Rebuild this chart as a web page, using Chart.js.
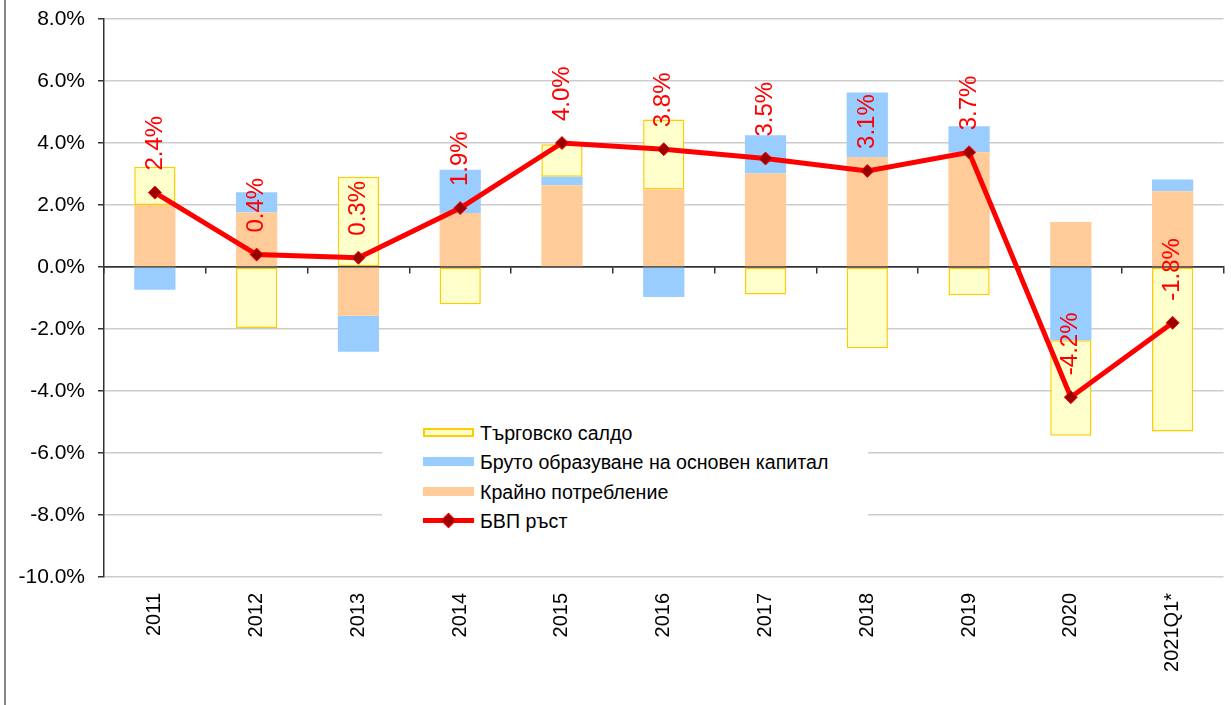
<!DOCTYPE html>
<html>
<head>
<meta charset="utf-8">
<script src="https://cdn.jsdelivr.net/npm/chart.js@4/dist/chart.umd.min.js"></script>
<style>
body{margin:0;background:#fff;font-family:"Liberation Sans",Arial,sans-serif}
#wrap{position:relative;width:1231px;height:705px}
#legend{position:absolute;left:382px;top:415px;width:486px;height:120px;background:#fff}
.item{position:absolute;left:41px;height:24px;font-size:19.6px;color:#000;white-space:nowrap}
.item span.sw{position:absolute;left:0;top:7px;width:51px;height:9px;box-sizing:border-box}
.item span.tx{position:absolute;left:57px;top:0;line-height:24px}
.ln{position:absolute;left:0;top:9px;width:51px;height:5px;background:#ff0000}
.dm{position:absolute;left:20px;top:6px;width:9px;height:9px;background:#990000;border:1px solid #ff0000;transform:rotate(45deg)}
</style>
</head>
<body>
<div id="wrap">
<canvas id="chart" width="1231" height="705"></canvas>
<div id="legend">
  <div class="item" style="top:6px"><span class="sw" style="background:#ffffcc;border:2px solid #ffcc00"></span><span class="tx">Търговско салдо</span></div>
  <div class="item" style="top:35px"><span class="sw" style="background:#99ccff"></span><span class="tx">Бруто образуване на основен капитал</span></div>
  <div class="item" style="top:65px"><span class="sw" style="background:#ffcc99"></span><span class="tx">Крайно потребление</span></div>
  <div class="item" style="top:94px"><span class="ln"></span><span class="dm"></span><span class="tx">БВП ръст</span></div>
</div>
</div>
<script>
const years = ["2011","2012","2013","2014","2015","2016","2017","2018","2019","2020","2021Q1*"]

// contributions, percentage points
const consumption = [2.0, 1.76, -1.57, 1.74, 2.64, 2.51, 3.02, 3.55, 3.70, 1.45, 2.44]
const investment = [-0.73, 0.65, -1.16, 1.40, 0.27, -0.97, 1.23, 2.08, 0.84, -2.36, 0.38]
const tradeBalance = [1.23, -1.97, 2.91, -1.20, 1.05, 2.25, -0.89, -2.62, -0.91, -3.08, -5.31]
const gdpGrowth = [2.4, 0.4, 0.3, 1.9, 4.0, 3.8, 3.5, 3.1, 3.7, -4.2, -1.8]

const yTicks = [-10, -8, -6, -4, -2, 0, 2, 4, 6, 8]

Chart.defaults.font.family = '"Liberation Sans", Arial, sans-serif'

const gdpLabels = {
id:"gdpLabels",
afterDatasetsDraw(chart){
let meta = chart.getDatasetMeta(3)
let c = chart.ctx
c.save()
c.fillStyle = "#ff0000"
c.font = '24px "Liberation Sans", Arial'
c.textAlign = "left"
c.textBaseline = "middle"
meta.data.forEach(function(pt,i){
c.save()
c.translate(pt.x, pt.y - 22)
c.rotate(-Math.PI/2)
c.fillText(gdpGrowth[i].toFixed(1) + "%", 0, 0)
c.restore()
})
c.restore()
}
}

const frame = {
id:"frame",
beforeDraw(chart){
let c = chart.ctx
c.save()
c.fillStyle = "#fff"
c.fillRect(0,0,chart.width,chart.height)
c.fillStyle = "#888"
c.fillRect(4,0,2,chart.height)
c.restore()
}
}

new Chart(document.getElementById("chart"),{
type:"bar",
data:{
labels:years,
datasets:[
{
label:"Крайно потребление",
data:consumption,
backgroundColor:"#ffcc99",
stack:"c",
order:1
},
{
label:"Бруто образуване на основен капитал",
data:investment,
backgroundColor:"#99ccff",
stack:"c",
order:1
},
{
label:"Търговско салдо",
data:tradeBalance,
backgroundColor:"#ffffcc",
borderColor:"#ffcc00",
borderWidth:1.5,
borderSkipped:false,
stack:"c",
order:1
},
{
type:"line",
label:"БВП ръст",
data:gdpGrowth,
borderColor:"#ff0000",
borderWidth:5,
pointStyle:"rectRot",
pointRadius:6.5,
pointBackgroundColor:"#990000",
pointBorderColor:"#ff0000",
pointBorderWidth:1,
stack:"gdp",
order:0
}
]
},
options:{
responsive:false,
devicePixelRatio:1,
animation:false,
barPercentage:0.405,
categoryPercentage:1.0,
layout:{padding:{left:0,top:19,right:3,bottom:0}},
plugins:{legend:{display:false},tooltip:{enabled:false}},
scales:{
x:{
stacked:true,
grid:{display:false,drawTicks:false},
border:{display:false},
ticks:{color:"#000",font:{size:20},maxRotation:90,minRotation:90,padding:16,autoSkip:false},
afterFit(s){ s.height = 128 }
},
x0:{
type:"category",
position:{y:0},
offset:true,
grid:{offset:true,drawOnChartArea:false,tickLength:6,tickColor:"#333",lineWidth:1.5},
border:{color:"#333",width:1.5},
ticks:{display:false}
},
y:{
stacked:true,
min:-10,
max:8,
afterBuildTicks(s){ s.ticks = yTicks.map(v => ({value:v})) },
ticks:{color:"#000",font:{size:21},padding:13,callback:v => v.toFixed(1) + "%"},
grid:{color:ctx => ctx.tick && ctx.tick.value === 0 ? "#333" : "#cccccc",lineWidth:1.5,tickLength:6,tickColor:"#333"},
border:{color:"#333",width:1.5},
afterFit(s){ s.width = 104; s.paddingTop = 0; s.paddingBottom = 0 }
}
}
},
plugins:[frame,gdpLabels]
})
</script>
</body>
</html>
